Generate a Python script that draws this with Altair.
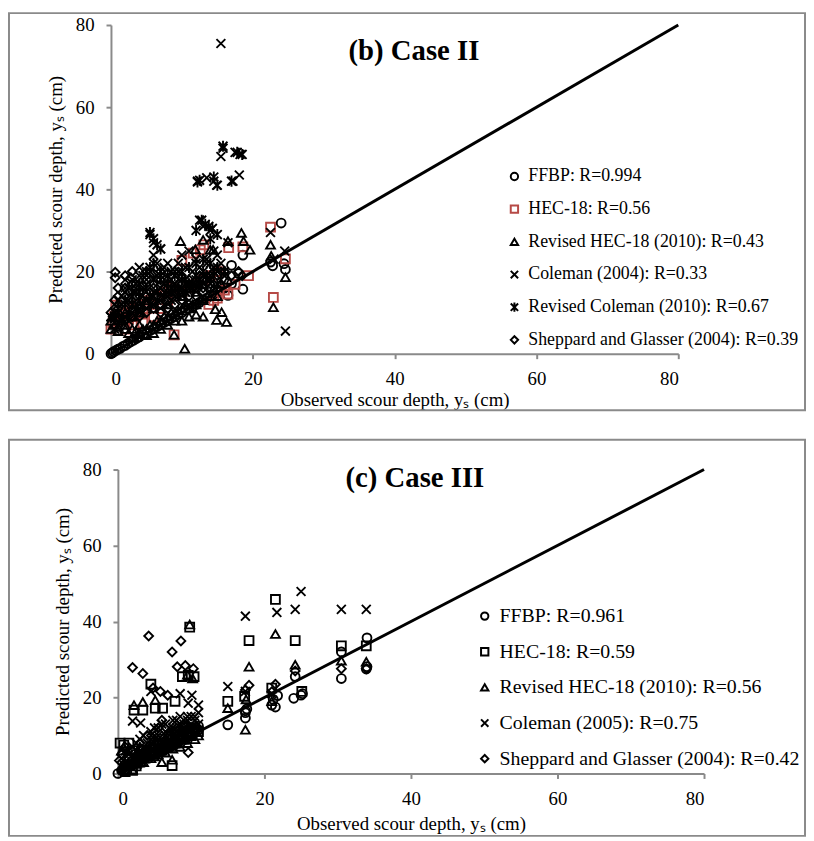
import altair as alt
import pandas as pd

FONT = "Liberation Serif"
RED = "#B64A46"
GRAY = "#8a8a8a"
X_PATH = "M-1,-1L1,1M1,-1L-1,1"
STAR_PATH = "M-1,-1L1,1M1,-1L-1,1M0,-1.25L0,1.25"

# ---------------- Case II ----------------
c2_labels = ["FFBP: R=0.994", "HEC-18: R=0.56", "Revised HEC-18 (2010): R=0.43",
             "Coleman (2004): R=0.33", "Revised Coleman (2010): R=0.67",
             "Sheppard and Glasser (2004): R=0.39"]

c2_ffbp_x = [0, 0.2, 0.4, 0.7, 1, 1.3, 1.7, 2, 2.4, 2.8, 3.2, 3.6, 4, 4.5, 5, 5.5, 6, 6.5, 7, 7.5,
             8, 8.5, 9, 9.5, 10, 10.5, 11, 11.5, 12, 12.5, 13, 13.5, 14, 14.5, 15, 15.5, 16, 16.5, 17, 18.6,
             18.6, 22.8, 22.5, 24.4, 24, 24.6, 17, 18]
c2_ffbp_y = [0, 0.2, 0.5, 0.8, 1.1, 1.3, 1.8, 2, 2.5, 2.9, 3.3, 3.7, 4.1, 4.6, 5, 5.6, 6, 6.6, 7, 7.6,
             8, 8.6, 9, 9.6, 10, 10.6, 11, 11.4, 12, 12.5, 13, 13.5, 14, 14.5, 15, 15.5, 16, 14.2, 17, 15.7,
             24, 21.4, 22.3, 21.9, 31.8, 20.5, 21.5, 19.5]

c2_hec_x = [0.7, 0.3, 1, 1.5, 2, 2.5, 3, 3.5, 4, 4.5, 5, 5.5, 6, 6.5, 7, 7.5, 8, 8.5, 9, 10,
            11, 12, 13, 14, 15, 8.9, 10, 11.6, 12.6, 13.1, 16.6, 18.6, 19.4, 22.5, 22.9, 24.6, 13.8, 16.5, 17.5, 14.5,
            15, 16, 0, 0.5, 2, 3, 4.5, 6]
c2_hec_y = [11.8, 7.5, 8, 9.5, 10, 8.5, 11, 9, 12, 10, 11, 13, 12, 14, 11, 15, 13, 16, 14, 15,
            16, 17, 18, 19, 20, 4.6, 22.7, 24.5, 25.3, 26.5, 25.8, 26, 19, 30.8, 13.7, 23.1, 12, 14.5, 16.9, 13,
            13.5, 15.5, 6, 9, 6, 7, 7.5, 9]

c2_rhec_x = [9.8, 11.9, 14.4, 16.5, 18.4, 18.7, 19.6, 22.5, 22.6, 22.9, 24.6, 10.4, 8.9, 14.9, 15.6,
             16.3, 14.7, 12.8, 14, 13, 0, 0.5, 1, 2, 3, 4, 5, 6, 7, 8, 9, 10, 11, 12, 13,
             1.5, 3, 4, 6, 8, 10, 12, 0.2,
             0, 1, 2, 3, 4, 5, 6, 7, 8, 9, 10, 11, 12, 13, 14, 15,
             2.5, 3.5, 4.5, 5.5, 6.5, 7.5, 8.5, 9.5, 10.5, 11.5,
             1, 2, 3, 4, 5, 6, 7, 8, 9, 10, 11, 12, 13, 14.5, 15.5, 16.5]
c2_rhec_y = [27.4, 25.4, 25.3, 27.4, 29.4, 27.4, 25.3, 26.5, 23.8, 11.3, 18.6, 1.2, 4.6, 8.2, 10.1,
             7.7, 10.8, 13.3, 25.3, 27.7, 6, 7, 5.5, 6, 4, 5, 4.5, 5, 6, 7, 8, 8, 9, 9.5, 9,
             8, 9, 10, 11, 12, 14, 15, 9,
             8, 6.5, 7, 6, 7, 6, 7, 8, 9, 10, 11, 11, 12, 13, 14, 14,
             5, 5.5, 6, 7, 8, 9, 10, 10.5, 12, 12,
             9, 10, 11, 12, 13, 13, 14, 15, 16, 15, 16, 17, 17, 16, 17, 18]

c2_col_x = [15.5, 24.6, 22.5, 24.5, 23, 15.8, 15.5, 13.5, 14.5, 14.9, 18.1, 17.2, 17.5, 18.2, 12.2,
            5.5, 6, 7, 12.5, 13, 14, 4, 3, 2, 1, 8, 10, 11, 9, 0, 0.5, 1.5, 2.5, 3.5, 4.5,
            5, 6.5, 7.5, 8.5, 9.5, 10.5, 12, 13.5, 15, 16.5, 14,
            1, 2, 3, 4, 5, 6, 7, 8, 9, 10, 11, 12, 13, 14, 15,
            0.5, 1.5, 2.5, 3.5, 4.5, 5.5, 6.5, 7.5, 8.5, 9.5, 10.5, 11.5, 12.5, 13.5, 14.5,
            0.5, 1.5, 2.5, 3.5, 4.5, 5.5, 6.5, 7.5, 8.5, 9.5, 10.5, 11.5, 12.5, 13.5, 14.5, 15.5, 16,
            2, 4, 6]
c2_col_y = [75.5, 5.5, 29.5, 25, 23, 50, 48, 42.8, 42, 41, 43.5, 42, 49, 48.5, 42,
            29, 27, 25.5, 32.5, 31, 30, 21, 18, 16, 13, 22, 24, 25, 20, 9, 10, 12, 13, 15, 16,
            18, 19, 17, 18, 20, 21, 23, 22, 24, 27, 19,
            7, 9, 10, 11, 13, 14, 16, 15, 14, 16, 17, 18, 19, 17, 20,
            6, 8, 8, 9, 10, 12, 13, 12, 13, 14, 15, 16, 17, 18, 21,
            12, 14, 16, 17, 19, 20, 22, 21, 20, 22, 18, 20, 21, 23, 25, 22, 19,
            18, 19, 24]

c2_rcol_x = [12.2, 12.5, 14.5, 15, 17, 17.8, 18.5, 15.8, 5.5, 6, 6.5, 7, 12.8, 13.3, 13.8,
             14.3, 15, 14, 12, 3, 4, 5, 5.5, 6, 7, 8, 9, 10, 11, 12, 13, 14, 15, 16, 2,
             1, 0, 0.5, 3, 4,
             1, 2, 3, 4, 5, 6, 7, 8, 9, 10, 11, 12, 13, 14, 15,
             1.5, 2.5, 3.5, 4.5, 5.5, 6.5, 7.5, 8.5, 9.5, 10.5, 11.5, 12.5, 13.5, 14.5, 15.5]
c2_rcol_y = [41.8, 42.2, 43, 41, 42, 49, 48.5, 50.5, 29.5, 28, 26.5, 25.5, 32.5, 31.5, 31,
             30.5, 29, 28, 30, 15, 17, 20, 21, 22, 18, 17, 19, 20, 21, 22, 23, 22, 21, 20, 12,
             10, 9, 8.5, 12, 13,
             11, 13, 14, 15, 16, 18, 20, 19, 16, 18, 17, 19, 20, 18, 17,
             8, 10, 11, 12, 14, 15, 14, 15, 16, 15, 17, 18, 19, 20, 18]

c2_shep_x = [0.6, 0.6, 2, 2.8, 3.5, 4.5, 5, 6, 7, 8, 9, 10, 11, 12.5, 13, 14, 1, 2, 3, 4,
             5, 6, 7, 8, 1, 2, 0.3, 4, 6, 9, 10, 11, 16, 17, 18, 18.5,
             0, 1, 2, 3, 4, 5, 6, 7, 8, 9, 10, 11, 12, 13, 14,
             0.5, 1.5, 2.5, 3.5, 4.5, 5.5, 6.5, 7.5, 8.5, 9.5, 10.5, 11.5, 12.5,
             1, 2, 3, 4, 5, 6, 7, 8, 9, 10, 11, 12, 13, 14, 15, 3, 5, 7]
c2_shep_y = [19.8, 18.5, 19, 18.5, 17, 16.5, 18, 19.5, 18, 19.5, 20, 18.5, 18, 19, 18, 17, 16, 14, 12, 11,
             12, 13, 12, 13, 11, 9, 9, 15, 16, 16, 15, 14, 20, 19, 20, 19,
             10, 9, 8, 9, 9, 10, 11, 10, 11, 12, 13, 12, 14, 15, 16,
             13, 13, 15, 14, 13, 15, 14, 16, 14, 17, 16, 16, 17,
             14, 16, 17, 15, 14, 17, 15, 17, 18, 17, 17, 16, 16, 19, 19, 20, 20, 20]

# ---------------- Case III ----------------
c3_labels = ["FFBP: R=0.961", "HEC-18: R=0.59", "Revised HEC-18 (2010): R=0.56",
             "Coleman (2005): R=0.75", "Sheppard and Glasser (2004): R=0.42"]

c3_ffbp_x = [0, 0.5, 1, 1.5, 2, 2.5, 3, 3.5, 4, 4.5, 5, 5.5, 6, 6.5, 7, 7.5, 8, 8.5, 9, 9.5,
             10, 10.5, 11, 11, 10.5, 9.8, 9.2, 8.7, 15, 17.4, 17.4, 17.4, 17.6, 21, 21.2,
             21.5, 21.8, 24, 24.2, 25, 25.2, 30.5, 30.5, 34, 34, 33.9,
             0.8, 1.8, 2.8, 3.8, 4.8, 5.8, 6.8, 7.8, 8.8, 9.8, 10.8,
             3.2, 4.2, 5.2, 6.2, 7.2, 8.2, 9.2, 10.2]
c3_ffbp_y = [0, 0.8, 1.2, 2, 2.3, 3, 3.5, 3.8, 4.5, 5, 5.5, 6, 6.5, 7, 7.5, 8, 8.5, 9, 9.5, 10,
             10.5, 11, 11.5, 12.5, 12, 11.8, 12.5, 11, 12.8, 16, 14.6, 16.5, 17, 18, 19.5,
             17.5, 20.5, 19.8, 25.5, 20.6, 21, 25, 32, 28.1, 35.7, 27.5,
             1.5, 2.5, 3, 4.2, 5.2, 6.2, 7, 8.2, 9.2, 10.2, 11,
             3, 4, 5, 6, 7, 8, 9, 10]

c3_hec_x = [0.3, 0.8, 1.2, 1.5, 2, 2.5, 2.2, 3.4, 5.1, 6.1, 4.5, 7.8, 3, 4, 5, 6, 7, 8, 9, 10,
            7.4, 8.8, 9.6, 10.4, 9.8, 15, 17.3, 17.9, 21, 21.5, 24.2, 25.1, 30.5, 33.9, 1, 2, 3,
            1.5, 2.5, 3.5, 4.5, 5.5, 6.5, 7.5, 8.5, 9.5, 10.5,
            1, 2, 3, 4, 5, 6, 7, 8, 9, 10, 11]
c3_hec_y = [8, 7.5, 1, 8, 6, 2, 16.7, 16.7, 17.2, 17.2, 23.5, 19, 5, 6, 8, 9, 10, 11, 12, 13,
            2.1, 25.5, 25.8, 25.5, 38.5, 19, 20.3, 35, 22.5, 45.8, 35, 21.6, 33.6, 33.6, 0.5, 0.8, 3,
            4, 5, 6, 7, 7.5, 8, 9, 10, 11, 12,
            2, 3, 4, 5, 5.5, 6.5, 7.5, 8, 9, 10, 11]

c3_rhec_x = [0.5, 0.8, 2.2, 3.4, 5.1, 9.8, 15, 17.9, 17.4, 21.5, 24.2, 30.5, 33.9, 9.5, 10.2,
             7.4, 1, 2, 3, 4, 5, 6, 7, 8, 9, 10, 3, 5, 6, 2, 17.5, 21,
             1.5, 2.5, 3.5, 4.5, 5.5, 6.5, 7.5, 8.5, 9.5, 10.5, 11]
c3_rhec_y = [6, 7, 18, 18.8, 19.3, 39.2, 17.2, 28.1, 11.5, 36.7, 28.6, 29.7, 29.4, 26, 25,
             3.6, 2, 3, 4, 5, 4.5, 6, 7, 8, 9, 11, 7, 8.5, 3, 1, 19.5, 19,
             2, 2.5, 3, 4, 5, 5.5, 6.5, 7, 8, 9, 10]

c3_col_x = [15, 17.4, 21.7, 24.2, 25, 30.5, 33.9, 17.4, 21, 4.5, 8.5, 10.1, 11, 9.6, 2,
            3.1, 4.5, 5, 6, 7, 8, 9, 10, 1, 2, 3, 4, 5.5, 6.5, 7.5, 9, 10.5, 11,
            1, 2, 3, 4, 5, 6, 7, 8, 9, 10,
            1.5, 2.5, 3.5, 4.5, 5.5, 6.5, 7.5, 8.5, 9.5, 10.5,
            0.5, 1.5, 2.5, 3.5, 4.5, 5.5, 6.5, 7.5, 8.5, 9.5, 10.5, 11]
c3_col_y = [22.9, 41.4, 42.4, 43.2, 47.9, 43.2, 43.2, 21.6, 21, 21.6, 21, 20.6, 18, 18.5, 13.8,
            13.3, 10, 12, 13, 12, 14, 13, 15, 6, 7, 9, 8, 9, 10, 11, 12, 14, 13,
            3, 4, 5, 6, 7, 8, 9, 10, 11, 12,
            5, 6, 7, 9, 10, 11, 12, 13, 14, 12,
            4, 6, 8, 10, 11, 12, 13, 14, 15, 15, 15, 16]

c3_shep_x = [4.2, 7.4, 8.6, 2, 3.4, 8.1, 9.2, 10.3, 5.8, 6.8, 9.6, 0.2, 0.5, 1, 17.9,
             17.4, 21.5, 24.2, 30.5, 33.9, 4.8, 5.5, 6, 7, 8, 9, 3, 4, 5, 2, 1.5, 21,
             1, 2, 3, 4, 5, 6, 7, 8, 9, 10,
             2.5, 3.5, 4.5, 5.5, 6.5, 7.5, 8.5,
             0.5, 1.5, 2.5, 3.5, 4.5, 5.5, 6.5, 7.5, 8.5, 9.5, 10.5]
c3_shep_y = [36.2, 32, 34.9, 27.9, 26.3, 28.1, 28.4, 27.6, 21.6, 20.6, 5.5, 3.4, 5, 7, 23.2,
             22, 23.5, 27, 27.6, 27.6, 22.5, 12, 14, 10, 12, 13, 8, 10, 11, 6, 4, 21.5,
             2, 3, 5, 6, 7, 8, 9, 10, 11, 12,
             4, 5, 7, 8, 9, 11, 12,
             1, 2, 3, 4, 5, 6, 7, 8, 9, 10, 11]

diag_x = [0, 80]
diag_y = [0, 80]
ticks = [0, 20, 40, 60, 80]


def build_df(labels, xs_list, ys_list):
    rows = []
    for lab, xs, ys in zip(labels, xs_list, ys_list):
        for a, b in zip(xs, ys):
            rows.append({"series": lab, "obs": a, "pred": b})
    return pd.DataFrame(rows)


def panel(title, df, labels, shapes, colors, w, h, x_range, y_offset, frame, title_pos, leg,
          x_title_pad):
    xs = alt.Scale(domain=[0, 80], nice=False, zero=True, range=x_range)
    ys = alt.Scale(domain=[0, 80], nice=False, zero=True)
    xax = alt.Axis(values=ticks, grid=False, domainColor=GRAY, domainWidth=2, tickColor=GRAY,
                   tickWidth=2, tickSize=5, labelFont=FONT, labelFontSize=19, labelColor="black",
                   labelPadding=11, title="Observed scour depth, yₛ (cm)", titleFont=FONT,
                   titleFontSize=19, titleFontWeight="normal", titleColor="black",
                   titlePadding=x_title_pad)
    yax = alt.Axis(values=ticks, grid=False, domainColor=GRAY, domainWidth=2, tickColor=GRAY,
                   tickWidth=2, tickSize=5, labelFont=FONT, labelFontSize=19, labelColor="black",
                   labelPadding=12, title="Predicted scour depth, yₛ (cm)", titleFont=FONT,
                   titleFontSize=19, titleFontWeight="normal", titleColor="black", titlePadding=10,
                   offset=y_offset)
    legend = alt.Legend(orient="none", legendX=leg["x"], legendY=leg["y"], title=None,
                        labelFont=FONT, labelFontSize=leg["fs"], labelColor="black",
                        symbolSize=55, symbolStrokeWidth=2, rowPadding=leg["rp"], padding=0,
                        labelLimit=0, labelOffset=5)

    box = alt.Chart(alt.Data(values=[{}])).mark_rect(
        fill="white", fillOpacity=0, stroke=GRAY, strokeWidth=2
    ).encode(x=alt.value(frame[0]), x2=alt.value(frame[1]),
             y=alt.value(frame[2]), y2=alt.value(frame[3]))

    pts = alt.Chart(df).mark_point(filled=False, size=80, strokeWidth=1.9, opacity=1).encode(
        x=alt.X("obs:Q", scale=xs, axis=xax),
        y=alt.Y("pred:Q", scale=ys, axis=yax),
        shape=alt.Shape("series:N", scale=alt.Scale(domain=labels, range=shapes), legend=legend),
        color=alt.Color("series:N", scale=alt.Scale(domain=labels, range=colors), legend=legend),
    )

    line = alt.Chart(pd.DataFrame({"obs": diag_x, "pred": diag_y})).mark_line(
        color="black", strokeWidth=3
    ).encode(x=alt.X("obs:Q", scale=xs, axis=xax), y=alt.Y("pred:Q", scale=ys, axis=yax))

    ttl = alt.Chart(alt.Data(values=[{"t": title}])).mark_text(
        font=FONT, fontSize=29, fontWeight="bold", align="center", baseline="middle", color="black"
    ).encode(x=alt.value(title_pos[0]), y=alt.value(title_pos[1]), text="t:N")

    return alt.layer(box, pts, line, ttl).properties(width=w, height=h)


df2 = build_df(c2_labels,
               [c2_ffbp_x, c2_hec_x, c2_rhec_x, c2_col_x, c2_rcol_x, c2_shep_x],
               [c2_ffbp_y, c2_hec_y, c2_rhec_y, c2_col_y, c2_rcol_y, c2_shep_y])
df3 = build_df(c3_labels,
               [c3_ffbp_x, c3_hec_x, c3_rhec_x, c3_col_x, c3_shep_x],
               [c3_ffbp_y, c3_hec_y, c3_rhec_y, c3_col_y, c3_shep_y])

top = panel("(b) Case II", df2, c2_labels,
            ["circle", "square", "triangle-up", X_PATH, STAR_PATH, "diamond"],
            ["black", RED, "black", "black", "black", "black"],
            573, 332, [0, 573], 0, (-103, 701, -12, 389), (306, 26),
            {"x": 398.5, "y": 144, "fs": 18, "rp": 15}, 2)

bottom = panel("(c) Case III", df3, c3_labels,
               ["circle", "square", "triangle-up", X_PATH, "diamond"],
               ["black", "black", "black", "black", "black"],
               599, 307, [7, 599], -7, (-103, 701, -30, 370), (307, 9),
               {"x": 367.5, "y": 138, "fs": 20, "rp": 16}, 7)

chart = alt.concat(top, bottom, columns=1, spacing=28).resolve_scale(
    x="independent", y="independent", color="independent", shape="independent"
).resolve_legend(color="independent", shape="independent").configure_view(
    stroke=None
).properties(padding={"left": 0, "top": 0, "right": 0, "bottom": 0}, background="white")

chart.save("out.html", embed_options={"renderer": "svg", "actions": False})
